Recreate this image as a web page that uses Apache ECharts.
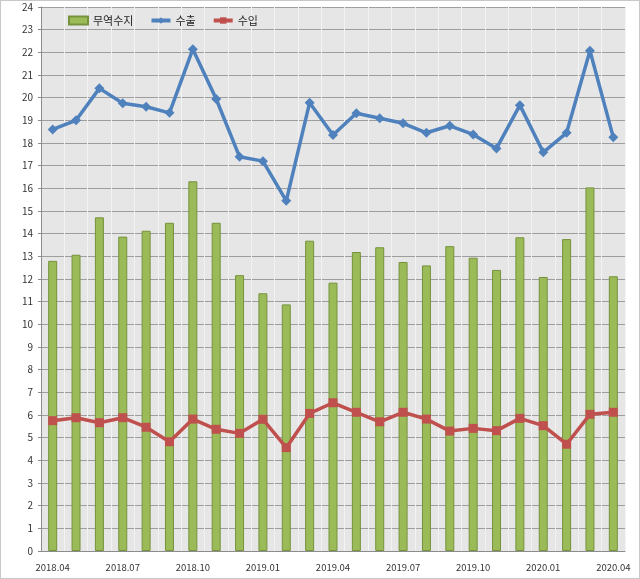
<!DOCTYPE html>
<html>
<head>
<meta charset="utf-8">
<script src="https://cdn.jsdelivr.net/npm/echarts@6/dist/echarts.min.js"></script>
<style>
  html, body { margin: 0; padding: 0; background: #fff; }
  #chart { width: 640px; height: 579px; box-sizing: border-box; border: 1px solid #c8c8c8; }
</style>
</head>
<body>
<div id="chart"></div>
<script>
const months = [
  '2018.04', '2018.05', '2018.06', '2018.07', '2018.08', '2018.09', '2018.10', '2018.11', '2018.12',
  '2019.01', '2019.02', '2019.03', '2019.04', '2019.05', '2019.06', '2019.07', '2019.08', '2019.09',
  '2019.10', '2019.11', '2019.12', '2020.01', '2020.02', '2020.03', '2020.04'
];
const tradeBalance = [12.8, 13.07, 14.72, 13.87, 14.13, 14.48, 16.31, 14.48, 12.17, 11.37, 10.88, 13.69,
  11.84, 13.19, 13.4, 12.75, 12.6, 13.45, 12.94, 12.4, 13.84, 12.09, 13.76, 16.04, 12.12];
const exports = [18.6, 19.0, 20.41, 19.75, 19.6, 19.33, 22.14, 19.94, 17.39, 17.2, 15.45, 19.78,
  18.35, 19.31, 19.09, 18.87, 18.45, 18.76, 18.38, 17.76, 19.67, 17.59, 18.45, 22.07, 18.25];
const imports = [5.75, 5.88, 5.66, 5.88, 5.46, 4.82, 5.82, 5.37, 5.19, 5.81, 4.56, 6.07,
  6.54, 6.12, 5.7, 6.12, 5.82, 5.29, 5.41, 5.31, 5.85, 5.53, 4.71, 6.03, 6.12];

const font = '"Noto Sans CJK KR", "Noto Sans", sans-serif';
const green = '#9bbb59', blue = '#4f81bd', red = '#c0504d';

const chart = echarts.init(document.getElementById('chart'));
chart.setOption({
  animation: false,
  textStyle: { fontFamily: font },
  grid: {
    left: 40, right: 14, top: 6, bottom: 27,
    show: true, backgroundColor: '#e6e6e6', borderWidth: 0
  },
  legend: {
    left: 67, top: 14, padding: 0,
    itemGap: 16, itemWidth: 19, itemHeight: 8,
    textStyle: { fontSize: 11, color: '#222', fontFamily: font },
    data: [
      { name: '무역수지', icon: 'rect' },
      { name: '수출', itemStyle: { color: blue }, lineStyle: { width: 4, color: blue } },
      { name: '수입', itemStyle: { color: red }, lineStyle: { width: 4, color: red } }
    ]
  },
  xAxis: {
    type: 'category',
    data: months,
    boundaryGap: true,
    axisLine: { lineStyle: { color: '#8c8c8c', width: 1 } },
    axisTick: { interval: 0, length: 4, lineStyle: { color: '#8c8c8c' } },
    axisLabel: { interval: 2, fontSize: 9.5, color: '#333', margin: 12 },
    splitLine: { show: true, interval: 0, lineStyle: { color: '#f3f3f3', width: 1 } }
  },
  yAxis: {
    type: 'value',
    min: 0, max: 24, interval: 1,
    axisLine: { show: true, lineStyle: { color: '#8c8c8c' } },
    axisTick: { show: true, length: 3, lineStyle: { color: '#8c8c8c' } },
    axisLabel: { fontSize: 10, color: '#333', margin: 8 },
    splitLine: { lineStyle: { color: '#9e9e9e', width: 1 } }
  },
  series: [
    {
      name: '무역수지',
      type: 'bar',
      data: tradeBalance,
      barWidth: 9,
      itemStyle: { color: green, borderColor: '#76923c', borderWidth: 1 }
    },
    {
      name: '수출',
      type: 'line',
      data: exports,
      symbol: 'diamond',
      symbolSize: 10,
      lineStyle: { color: blue, width: 3.5 },
      itemStyle: { color: blue }
    },
    {
      name: '수입',
      type: 'line',
      data: imports,
      symbol: 'rect',
      symbolSize: 9,
      lineStyle: { color: red, width: 3.5 },
      itemStyle: { color: red }
    }
  ]
});
</script>
</body>
</html>
